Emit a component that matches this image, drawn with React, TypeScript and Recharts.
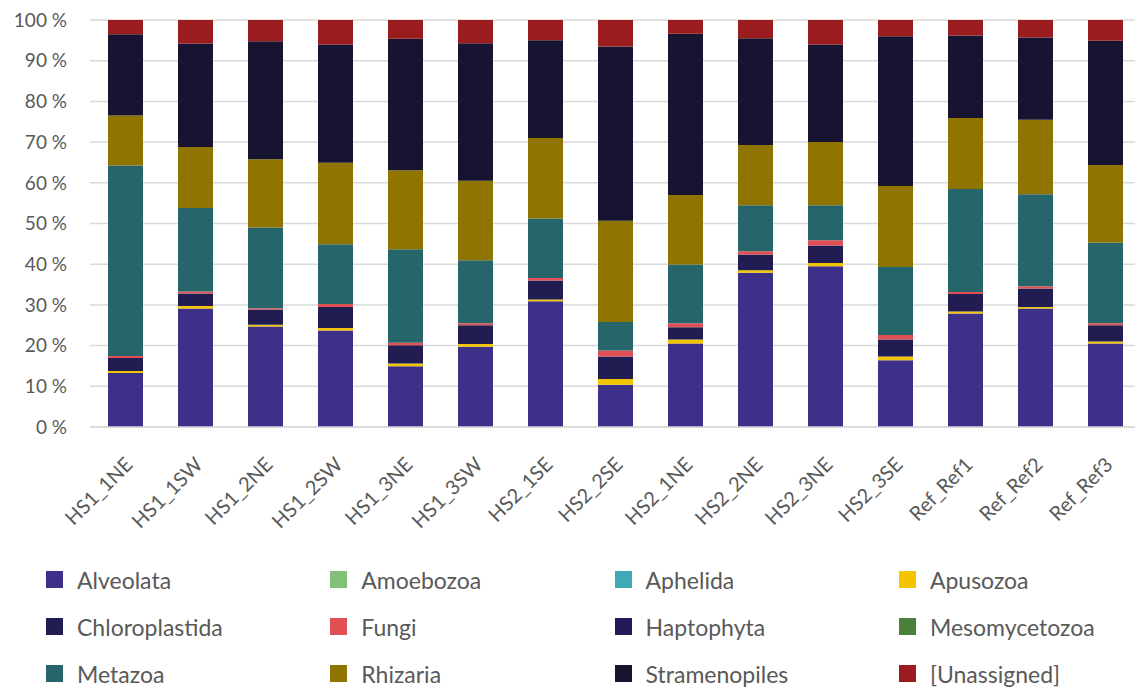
import { BarChart, Bar, XAxis, YAxis, CartesianGrid } from "recharts";

const sites = [
  "HS1_1NE", "HS1_1SW", "HS1_2NE", "HS1_2SW", "HS1_3NE", "HS1_3SW", "HS2_1SE",
  "HS2_2SE", "HS2_1NE", "HS2_2NE", "HS2_3NE", "HS2_3SE", "Ref_Ref1", "Ref_Ref2", "Ref_Ref3",
];

// relative abundance (%) per taxon, same order as sites
const alveolata = [13.3, 29.1, 24.7, 23.7, 14.9, 19.7, 30.9, 10.4, 20.5, 37.9, 39.5, 16.4, 27.9, 29.1, 20.5];
const amoebozoa = [0, 0, 0, 0, 0, 0, 0, 0, 0, 0, 0, 0, 0, 0, 0];
const aphelida = [0, 0, 0, 0, 0, 0, 0, 0, 0, 0, 0, 0, 0, 0, 0];
const apusozoa = [0.5, 0.6, 0.4, 0.6, 0.7, 0.7, 0.4, 1.4, 1.0, 0.6, 0.8, 0.9, 0.5, 0.4, 0.5];
const chloroplastida = [3.2, 3.1, 3.8, 5.2, 4.5, 4.6, 4.7, 5.5, 3.0, 3.9, 4.3, 4.2, 4.3, 4.5, 4.0];
const fungi = [0.5, 0.5, 0.3, 0.7, 0.6, 0.5, 0.6, 1.5, 1.0, 0.8, 1.3, 1.1, 0.5, 0.6, 0.5];
const haptophyta = [0, 0, 0, 0, 0, 0, 0, 0, 0, 0, 0, 0, 0, 0, 0];
const mesomycetozoa = [0, 0, 0, 0, 0, 0, 0, 0, 0, 0, 0, 0, 0, 0, 0];
const metazoa = [46.9, 20.5, 19.8, 14.7, 23.0, 15.5, 14.6, 7.0, 14.4, 11.3, 8.6, 16.7, 25.3, 22.6, 19.8];
const rhizaria = [12.3, 15.0, 16.8, 20.0, 19.4, 19.5, 19.8, 24.9, 17.1, 14.8, 15.5, 19.9, 17.4, 18.3, 19.1];
const stramenopiles = [20.0, 25.4, 29.0, 29.1, 32.3, 33.8, 24.0, 42.8, 39.6, 26.2, 24.0, 36.8, 20.3, 20.2, 30.5];
const unassigned = [3.5, 5.8, 5.2, 6.0, 4.6, 5.7, 5.0, 6.5, 3.4, 4.5, 6.0, 4.0, 3.8, 4.3, 5.1];

const taxa = [
  { name: "Alveolata", values: alveolata, color: "#3c3089" },
  { name: "Amoebozoa", values: amoebozoa, color: "#82c07a" },
  { name: "Aphelida", values: aphelida, color: "#3fa9b5" },
  { name: "Apusozoa", values: apusozoa, color: "#f2c500" },
  { name: "Chloroplastida", values: chloroplastida, color: "#211d52" },
  { name: "Fungi", values: fungi, color: "#e05055" },
  { name: "Haptophyta", values: haptophyta, color: "#241a5a" },
  { name: "Mesomycetozoa", values: mesomycetozoa, color: "#4a7f3c" },
  { name: "Metazoa", values: metazoa, color: "#26656a" },
  { name: "Rhizaria", values: rhizaria, color: "#8f7400" },
  { name: "Stramenopiles", values: stramenopiles, color: "#161431" },
  { name: "[Unassigned]", values: unassigned, color: "#9b1c1e" },
];

const yTicks = [0, 0.1, 0.2, 0.3, 0.4, 0.5, 0.6, 0.7, 0.8, 0.9, 1];

const data = sites.map((site, i) => {
  const row: Record<string, string | number> = { site };
  taxa.forEach((t) => (row[t.name] = t.values[i]));
  return row;
});

const FONT = "Lato, 'Open Sans', sans-serif";
const TEXT = "#595959";

function SiteTick({ x, y, payload }: any) {
  return (
    <g transform={`translate(${x + 4},${y + 26})`}>
      <text
        transform="rotate(-45)"
        textAnchor="end"
        dy="0.35em"
        fill={TEXT}
        fontSize={20}
        fontFamily={FONT}
      >
        {payload.value}
      </text>
    </g>
  );
}

export default function App() {
  return (
    <div
      style={{
        position: "absolute",
        left: 0,
        top: 0,
        width: 1135,
        height: 688,
        overflow: "hidden",
        background: "#fff",
      }}
    >
      <BarChart
        width={1140}
        height={560}
        data={data}
        stackOffset="expand"
        margin={{ top: 20, right: 0, bottom: 0, left: 0 }}
      >
        <CartesianGrid vertical={false} stroke="#d9d9d9" strokeWidth={1.5} />
        <XAxis
          dataKey="site"
          interval={0}
          height={133}
          tickLine={false}
          axisLine={{ stroke: "#d9d9d9", strokeWidth: 1.5 }}
          tick={<SiteTick />}
        />
        <YAxis
          width={90}
          domain={[0, 1]}
          ticks={yTicks}
          axisLine={false}
          tickLine={false}
          tickMargin={17}
          tickFormatter={(v: number) => `${Math.round(v * 100)} %`}
          tick={{ fill: TEXT, fontSize: 19, fontFamily: FONT }}
        />
        {taxa.map((t) => (
          <Bar
            key={t.name}
            dataKey={t.name}
            stackId="a"
            fill={t.color}
            barSize={35}
            isAnimationActive={false}
          />
        ))}
      </BarChart>
      {taxa.map((t, i) => {
        const col = i % 4;
        const row = Math.floor(i / 4);
        return (
          <div
            key={t.name}
            style={{
              position: "absolute",
              left: 46 + col * 284.3,
              top: 571 + row * 47,
              height: 17,
              display: "flex",
              alignItems: "center",
              fontFamily: FONT,
              fontSize: 23,
              color: TEXT,
              whiteSpace: "nowrap",
            }}
          >
            <span
              style={{
                display: "inline-block",
                width: 17,
                height: 17,
                background: t.color,
                marginRight: 14,
              }}
            />
            {t.name}
          </div>
        );
      })}
    </div>
  );
}
